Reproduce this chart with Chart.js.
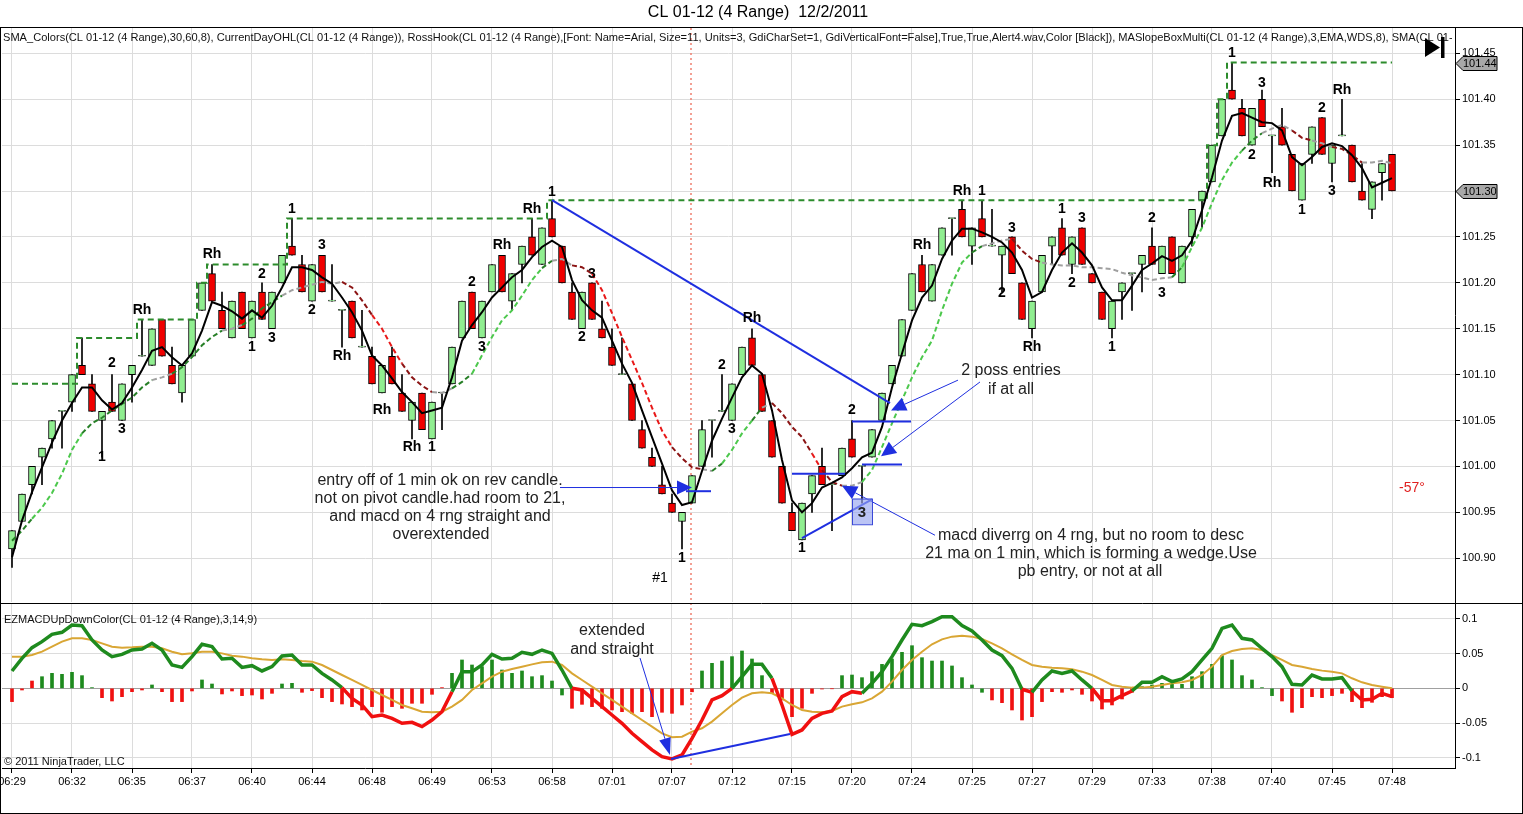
<!DOCTYPE html>
<html><head><meta charset="utf-8">
<script src="https://cdn.jsdelivr.net/npm/chart.js@4.4.0/dist/chart.umd.min.js"></script>
<style>
html,body{margin:0;padding:0;background:#fff;}
#wrap{position:relative;width:1523px;height:814px;overflow:hidden;background:#fff;}
#cA{position:absolute;left:0;top:0;}
#cB{position:absolute;left:0;top:603px;}
#frame{position:absolute;left:0;top:27px;width:1523px;height:787px;border:1px solid #000;box-sizing:border-box;pointer-events:none;}
</style></head><body>
<div id="wrap"><canvas id="cA" width="1523" height="603"></canvas><canvas id="cB" width="1523" height="211"></canvas><div id="frame"></div></div>
<script>
// ---------------- DATA ----------------
const timeLabels = ['06:29','06:32','06:35','06:37','06:40','06:44','06:48','06:49','06:53','06:58','07:01','07:07','07:12','07:15','07:20','07:24','07:25','07:27','07:29','07:33','07:38','07:40','07:45','07:48'];
const priceTicks = [100.90,100.95,101.00,101.05,101.10,101.15,101.20,101.25,101.30,101.35,101.40,101.45];
const macdTicks = [-0.1,-0.05,0,0.05,0.1];

const opens = [
100.91,100.94,100.98,101.01,101.03,101.06,101.07,101.11,101.09,101.05,
101.07,101.05,101.10,101.12,101.11,101.16,101.11,101.08,101.12,101.17,
101.21,101.17,101.14,101.19,101.14,101.19,101.15,101.20,101.24,101.22,
101.18,101.23,101.18,101.17,101.18,101.13,101.12,101.08,101.12,101.08,
101.05,101.08,101.03,101.08,101.09,101.14,101.19,101.14,101.19,101.23,
101.18,101.22,101.25,101.22,101.27,101.24,101.19,101.15,101.20,101.15,
101.13,101.10,101.09,101.04,101.01,100.98,100.96,100.94,100.96,101.00,
101.05,101.06,101.05,101.10,101.14,101.10,101.05,101.00,100.95,100.92,
100.97,101.00,100.98,100.99,101.03,101.00,101.01,101.05,101.09,101.12,
101.17,101.22,101.18,101.23,101.27,101.28,101.24,101.27,101.24,101.23,
101.25,101.20,101.15,101.19,101.24,101.26,101.22,101.26,101.21,101.19,
101.15,101.19,101.21,101.22,101.24,101.21,101.25,101.20,101.25,101.29,
101.31,101.36,101.41,101.39,101.35,101.40,101.36,101.37,101.34,101.29,
101.34,101.38,101.33,101.36,101.35,101.30,101.28,101.32,101.34];
const highs = [
100.93,100.97,101.00,101.02,101.05,101.06,101.10,101.14,101.10,101.06,
101.10,101.09,101.11,101.16,101.15,101.16,101.13,101.11,101.16,101.20,
101.22,101.19,101.18,101.19,101.18,101.20,101.19,101.23,101.27,101.23,
101.22,101.23,101.22,101.17,101.18,101.17,101.13,101.11,101.13,101.10,
101.07,101.08,101.07,101.08,101.13,101.18,101.19,101.18,101.22,101.23,
101.21,101.24,101.27,101.26,101.29,101.24,101.20,101.19,101.20,101.18,
101.15,101.14,101.09,101.05,101.02,101.00,100.97,100.95,100.99,101.05,
101.05,101.10,101.09,101.13,101.15,101.10,101.05,101.00,100.96,100.96,
100.99,101.02,100.98,101.02,101.05,101.00,101.04,101.08,101.11,101.16,
101.21,101.23,101.22,101.26,101.27,101.29,101.26,101.29,101.28,101.24,
101.25,101.20,101.18,101.23,101.25,101.27,101.25,101.26,101.21,101.19,
101.18,101.20,101.21,101.23,101.26,101.24,101.25,101.24,101.28,101.30,
101.35,101.40,101.44,101.40,101.39,101.41,101.36,101.39,101.34,101.33,
101.37,101.38,101.35,101.40,101.35,101.33,101.31,101.33,101.34];
const lows = [
100.89,100.94,100.97,100.98,101.02,101.02,101.06,101.10,101.06,101.01,
101.06,101.05,101.07,101.12,101.11,101.12,101.09,101.07,101.12,101.17,
101.18,101.15,101.14,101.15,101.14,101.16,101.15,101.20,101.23,101.19,
101.18,101.19,101.18,101.13,101.14,101.13,101.09,101.08,101.09,101.06,
101.03,101.04,101.03,101.04,101.09,101.14,101.15,101.14,101.19,101.19,
101.17,101.20,101.23,101.22,101.25,101.20,101.16,101.15,101.16,101.14,
101.11,101.10,101.05,101.02,101.00,100.97,100.95,100.91,100.96,101.00,
101.01,101.06,101.05,101.10,101.11,101.06,101.01,100.96,100.93,100.92,
100.95,100.98,100.93,100.99,101.01,100.96,101.01,101.05,101.09,101.12,
101.17,101.19,101.18,101.23,101.23,101.25,101.22,101.25,101.24,101.19,
101.21,101.16,101.14,101.19,101.22,101.23,101.21,101.22,101.20,101.16,
101.14,101.16,101.17,101.19,101.22,101.21,101.21,101.20,101.24,101.26,
101.31,101.36,101.40,101.36,101.35,101.37,101.32,101.35,101.30,101.29,
101.33,101.34,101.31,101.36,101.31,101.29,101.27,101.29,101.30];
const closes = [
100.93,100.97,101.00,101.02,101.05,101.06,101.10,101.10,101.06,101.06,
101.06,101.09,101.11,101.12,101.15,101.12,101.09,101.11,101.16,101.20,
101.18,101.15,101.18,101.15,101.18,101.16,101.19,101.23,101.23,101.19,
101.22,101.19,101.18,101.17,101.14,101.13,101.09,101.11,101.09,101.06,
101.07,101.04,101.07,101.08,101.13,101.18,101.15,101.18,101.22,101.19,
101.21,101.24,101.23,101.26,101.25,101.20,101.16,101.19,101.16,101.14,
101.11,101.10,101.05,101.02,101.00,100.97,100.95,100.95,100.99,101.04,
101.05,101.06,101.09,101.13,101.11,101.06,101.01,100.96,100.93,100.96,
100.99,100.98,100.98,101.02,101.01,101.00,101.04,101.08,101.11,101.16,
101.21,101.19,101.22,101.26,101.27,101.25,101.26,101.25,101.24,101.24,
101.21,101.16,101.18,101.23,101.25,101.23,101.25,101.22,101.20,101.16,
101.18,101.20,101.21,101.23,101.22,101.24,101.21,101.24,101.28,101.30,
101.35,101.40,101.40,101.36,101.39,101.37,101.36,101.35,101.30,101.33,
101.37,101.34,101.35,101.36,101.31,101.29,101.31,101.33,101.30];

const smaFast = [
100.901,100.941,100.972,100.999,101.026,101.050,101.069,101.086,101.086,101.072,
101.062,101.069,101.086,101.105,101.126,101.130,101.119,101.110,101.123,101.148,
101.179,101.175,101.169,101.161,101.170,101.162,101.175,101.195,101.217,101.217,
101.214,101.206,101.199,101.184,101.168,101.148,101.121,101.110,101.096,101.081,
101.070,101.058,101.061,101.064,101.097,101.137,101.154,101.168,101.184,101.195,
101.206,101.214,101.228,101.239,101.246,101.239,101.203,101.181,101.170,101.162,
101.137,101.112,101.091,101.061,101.032,101.003,100.974,100.958,100.961,100.995,
101.028,101.052,101.075,101.097,101.110,101.101,101.061,101.007,100.963,100.950,
100.960,100.977,100.982,100.988,100.998,101.010,101.015,101.043,101.086,101.123,
101.159,101.184,101.197,101.226,101.246,101.259,101.259,101.255,101.250,101.244,
101.233,101.214,101.184,101.190,101.214,101.233,101.243,101.233,101.219,101.195,
101.181,101.181,101.197,101.214,101.221,101.229,101.224,101.230,101.246,101.279,
101.315,101.355,101.382,101.385,101.380,101.375,101.374,101.366,101.337,101.328,
101.337,101.348,101.352,101.349,101.339,101.325,101.304,101.309,101.314];
const smaSlow = [
100.919,100.930,100.943,100.955,100.971,100.992,101.018,101.036,101.047,101.053,
101.061,101.068,101.075,101.086,101.094,101.097,101.101,101.108,101.119,101.132,
101.141,101.148,101.150,101.154,101.161,101.172,101.179,101.186,101.192,101.195,
101.198,101.201,101.199,101.201,101.195,101.181,101.165,101.150,101.130,101.112,
101.097,101.088,101.081,101.080,101.085,101.092,101.101,101.121,101.141,101.159,
101.170,101.186,101.203,101.216,101.224,101.226,101.219,101.217,101.210,101.192,
101.167,101.141,101.116,101.091,101.064,101.039,101.021,101.009,100.999,100.997,
100.995,101.003,101.018,101.036,101.050,101.064,101.069,101.058,101.043,101.032,
101.014,100.996,100.983,100.979,100.979,100.983,100.996,101.021,101.047,101.072,
101.097,101.119,101.137,101.170,101.199,101.222,101.233,101.240,101.243,101.246,
101.248,101.235,101.226,101.222,101.220,101.219,101.219,101.217,101.217,101.216,
101.215,101.211,101.208,101.206,101.203,101.205,101.206,101.217,101.239,101.260,
101.287,101.312,101.331,101.344,101.355,101.363,101.368,101.372,101.366,101.358,
101.355,101.352,101.348,101.346,101.339,101.331,101.331,101.333,101.330];
const dayHigh = [
101.09,101.09,101.09,101.09,101.09,101.09,101.09,101.14,101.14,101.14,
101.14,101.14,101.14,101.16,101.16,101.16,101.16,101.16,101.16,101.20,
101.22,101.22,101.22,101.22,101.22,101.22,101.22,101.22,101.27,101.27,
101.27,101.27,101.27,101.27,101.27,101.27,101.27,101.27,101.27,101.27,
101.27,101.27,101.27,101.27,101.27,101.27,101.27,101.27,101.27,101.27,
101.27,101.27,101.27,101.27,101.29,101.29,101.29,101.29,101.29,101.29,
101.29,101.29,101.29,101.29,101.29,101.29,101.29,101.29,101.29,101.29,
101.29,101.29,101.29,101.29,101.29,101.29,101.29,101.29,101.29,101.29,
101.29,101.29,101.29,101.29,101.29,101.29,101.29,101.29,101.29,101.29,
101.29,101.29,101.29,101.29,101.29,101.29,101.29,101.29,101.29,101.29,
101.29,101.29,101.29,101.29,101.29,101.29,101.29,101.29,101.29,101.29,
101.29,101.29,101.29,101.29,101.29,101.29,101.29,101.29,101.29,101.29,
101.35,101.40,101.44,101.44,101.44,101.44,101.44,101.44,101.44,101.44,
101.44,101.44,101.44,101.44,101.44,101.44,101.44,101.44,101.44];

const macdLine = [
0.0249,0.0431,0.0584,0.0670,0.0775,0.0804,0.0909,0.0900,0.0694,0.0550,
0.0455,0.0488,0.0550,0.0565,0.0646,0.0550,0.0335,0.0301,0.0455,0.0632,
0.0598,0.0421,0.0431,0.0301,0.0325,0.0249,0.0311,0.0464,0.0478,0.0335,
0.0335,0.0215,0.0120,0.0010,-0.0144,-0.0239,-0.0407,-0.0383,-0.0431,-0.0502,
-0.0488,-0.0550,-0.0455,-0.0335,-0.0048,0.0239,0.0239,0.0335,0.0488,0.0421,
0.0431,0.0517,0.0488,0.0550,0.0502,0.0263,0.0000,-0.0024,-0.0144,-0.0263,
-0.0383,-0.0502,-0.0646,-0.0766,-0.0885,-0.0981,-0.1014,-0.0957,-0.0718,-0.0455,
-0.0167,-0.0105,0.0000,0.0167,0.0344,0.0344,0.0144,-0.0239,-0.0660,-0.0598,
-0.0431,-0.0359,-0.0325,-0.0120,-0.0048,-0.0072,0.0072,0.0239,0.0455,0.0694,
0.0919,0.0900,0.0957,0.1029,0.1029,0.0900,0.0823,0.0694,0.0550,0.0469,
0.0287,-0.0014,-0.0057,0.0120,0.0249,0.0215,0.0249,0.0120,0.0000,-0.0177,
-0.0177,-0.0105,-0.0038,0.0086,0.0086,0.0167,0.0096,0.0134,0.0239,0.0407,
0.0574,0.0861,0.0909,0.0718,0.0694,0.0574,0.0455,0.0311,0.0057,0.0048,
0.0191,0.0134,0.0134,0.0153,-0.0038,-0.0167,-0.0158,-0.0072,-0.0120];
const signalLine = [
0.0455,0.0455,0.0478,0.0526,0.0598,0.0670,0.0718,0.0718,0.0694,0.0646,
0.0598,0.0584,0.0589,0.0598,0.0598,0.0574,0.0526,0.0488,0.0502,0.0526,
0.0526,0.0502,0.0469,0.0455,0.0431,0.0416,0.0407,0.0416,0.0407,0.0392,
0.0383,0.0335,0.0263,0.0191,0.0120,0.0048,-0.0024,-0.0096,-0.0167,-0.0239,
-0.0287,-0.0335,-0.0344,-0.0335,-0.0263,-0.0167,-0.0024,0.0072,0.0167,0.0239,
0.0278,0.0311,0.0344,0.0373,0.0383,0.0335,0.0215,0.0120,0.0024,-0.0072,
-0.0167,-0.0263,-0.0359,-0.0455,-0.0550,-0.0646,-0.0703,-0.0694,-0.0622,-0.0574,
-0.0478,-0.0359,-0.0239,-0.0134,-0.0072,-0.0057,-0.0072,-0.0144,-0.0239,-0.0311,
-0.0335,-0.0344,-0.0325,-0.0263,-0.0230,-0.0201,-0.0144,-0.0048,0.0096,0.0263,
0.0407,0.0526,0.0632,0.0703,0.0742,0.0756,0.0742,0.0708,0.0646,0.0574,
0.0488,0.0407,0.0335,0.0311,0.0297,0.0287,0.0273,0.0239,0.0191,0.0120,
0.0048,0.0024,0.0010,0.0010,0.0024,0.0048,0.0072,0.0086,0.0120,0.0191,
0.0311,0.0478,0.0536,0.0565,0.0574,0.0550,0.0478,0.0407,0.0335,0.0311,
0.0278,0.0254,0.0239,0.0215,0.0144,0.0086,0.0048,0.0024,0.0000];
const histogram = [
-0.0191,-0.0024,0.0105,0.0167,0.0215,0.0201,0.0230,0.0182,0.0010,-0.0134,
-0.0182,-0.0120,-0.0048,-0.0024,0.0048,-0.0048,-0.0191,-0.0191,-0.0038,0.0120,
0.0062,-0.0081,-0.0038,-0.0105,-0.0096,-0.0153,-0.0072,0.0062,0.0072,-0.0057,
-0.0033,-0.0134,-0.0191,-0.0225,-0.0263,-0.0311,-0.0263,-0.0344,-0.0263,-0.0287,
-0.0215,-0.0215,-0.0086,0.0010,0.0215,0.0407,0.0335,0.0311,0.0407,0.0263,
0.0215,0.0249,0.0167,0.0182,0.0105,-0.0096,-0.0287,-0.0230,-0.0263,-0.0287,
-0.0311,-0.0335,-0.0359,-0.0335,-0.0407,-0.0344,-0.0359,-0.0239,-0.0050,0.0249,
0.0359,0.0392,0.0455,0.0536,0.0421,0.0182,-0.0072,-0.0167,-0.0407,-0.0287,
-0.0072,-0.0010,-0.0005,0.0182,0.0191,0.0153,0.0239,0.0344,0.0421,0.0517,
0.0612,0.0440,0.0392,0.0392,0.0321,0.0153,0.0048,-0.0057,-0.0167,-0.0206,
-0.0311,-0.0455,-0.0407,-0.0191,-0.0048,-0.0057,-0.0024,-0.0086,-0.0182,-0.0297,
-0.0239,-0.0153,-0.0057,0.0024,0.0048,0.0072,0.0057,0.0057,0.0167,0.0239,
0.0344,0.0469,0.0407,0.0182,0.0120,0.0010,-0.0105,-0.0182,-0.0344,-0.0278,
-0.0120,-0.0134,-0.0105,-0.0072,-0.0191,-0.0278,-0.0201,-0.0120,-0.0134];
const histOffColor = [2,43,55,97,126];

// swing labels: [bar, price, text]
const swingLabels = [
[10,101.112,'2'],[9,101.010,'1'],[11,101.041,'3'],[13,101.170,'Rh'],[20,101.231,'Rh'],
[25,101.210,'2'],[24,101.130,'1'],[26,101.140,'3'],[28,101.280,'1'],[31,101.241,'3'],
[30,101.170,'2'],[33,101.120,'Rh'],[37,101.061,'Rh'],[40,101.021,'Rh'],[42,101.021,'1'],
[46,101.201,'2'],[47,101.130,'3'],[49,101.241,'Rh'],[52,101.280,'Rh'],[54,101.299,'1'],
[57,101.141,'2'],[58,101.210,'3'],[67,100.900,'1'],[71,101.110,'2'],[72,101.041,'3'],
[74,101.161,'Rh'],[79,100.911,'1'],[84,101.061,'2'],[91,101.241,'Rh'],[95,101.300,'Rh'],
[97,101.300,'1'],[100,101.260,'3'],[99,101.189,'2'],[102,101.130,'Rh'],[105,101.280,'1'],
[107,101.270,'3'],[106,101.200,'2'],[110,101.130,'1'],[114,101.270,'2'],[115,101.189,'3'],
[122,101.450,'1'],[125,101.418,'3'],[124,101.339,'2'],[126,101.309,'Rh'],[129,101.279,'1'],
[131,101.390,'2'],[132,101.300,'3'],[133,101.410,'Rh']];

// drawn annotations in chart coordinates [bar1, value1, bar2, value2]
const blueSegments = [[54,101.29,87.8,101.069],[84,101.049,89.9,101.049],[85,101.002,89,101.002],[78,100.992,83.3,100.992],[67.4,100.973,69.9,100.973],[79,100.922,86,100.964]];
const blueArrows = [[94.6,101.094,87.9,101.061],[96.8,101.092,86.9,101.011],[92.3,100.925,83,100.979],[54.8,100.977,68,100.977]];
const noteBox = [84,100.965,86,100.937];
const macdSegments = [[65.9,-0.1016,77.8,-0.0657]];
const macdArrows = [[62.8,0.0435,65.8,-0.0958]];
const sessionBreak = 67.9;

// ---------------- STYLE ----------------
const FONT = '"Liberation Sans", Arial, Helvetica, sans-serif';
Chart.defaults.font.family = FONT;
Chart.defaults.color = '#000';
const GRID = '#DCDCDC';
const C_UP = '#90EE90', C_DN = '#F00000';
const BLUE = '#1F2FE0';
const N = closes.length;
const xy = arr => arr.map((v,i)=>({x:i,y:v}));
const INDICATORS = 'SMA_Colors(CL 01-12 (4 Range),30,60,8), CurrentDayOHL(CL 01-12 (4 Range)), RossHook(CL 01-12 (4 Range),[Font: Name=Arial, Size=11, Units=3, GdiCharSet=1, GdiVerticalFont=False],True,True,Alert4.wav,Color [Black]), MASlopeBoxMulti(CL 01-12 (4 Range),3,EMA,WDS,8), SMA(CL 01-12 (4 Range),21)';

function slopeColor(i){
  const a = Math.max(i-1,0), b = Math.min(i+2,N-1);
  const s = (smaSlow[b]-smaSlow[a])/(b-a);
  if (s > 0.0125) return '#4CC84C';
  if (s > 0.006) return '#267F26';
  if (s < -0.016) return '#E81818';
  if (s < -0.004) return '#8B1414';
  return '#A0A0A0';
}
function arrow(ctx, x1,y1,x2,y2,len,half){
  const a = Math.atan2(y2-y1,x2-x1);
  const bx = x2-len*Math.cos(a), by = y2-len*Math.sin(a);
  ctx.beginPath(); ctx.moveTo(x1,y1); ctx.lineTo(bx,by); ctx.stroke();
  ctx.beginPath(); ctx.moveTo(x2,y2);
  ctx.lineTo(bx+half*Math.sin(a), by-half*Math.cos(a));
  ctx.lineTo(bx-half*Math.sin(a), by+half*Math.cos(a));
  ctx.closePath(); ctx.fill();
}
function vDotted(chart){
  const ctx=chart.ctx, ca=chart.chartArea, x=chart.scales.x.getPixelForValue(sessionBreak);
  ctx.save(); ctx.strokeStyle='#F08070'; ctx.lineWidth=1.5; ctx.setLineDash([2,3]);
  ctx.beginPath(); ctx.moveTo(x,ca.top); ctx.lineTo(x,ca.bottom); ctx.stroke(); ctx.restore();
}
function white(chart){ const c=chart.ctx; c.save(); c.fillStyle='#fff'; c.fillRect(0,0,chart.width,chart.height); c.restore(); }

const decorA = {
  id:'decorA',
  beforeDraw: white,
  beforeDatasetsDraw: vDotted,
  afterDraw(chart){
    const ctx=chart.ctx, xs=chart.scales.x, ys=chart.scales.y, ca=chart.chartArea;
    const X=v=>xs.getPixelForValue(v), Y=v=>ys.getPixelForValue(v);
    ctx.save();
    ctx.fillStyle='#000'; ctx.textBaseline='middle';
    ctx.font='16px '+FONT; ctx.textAlign='center';
    ctx.fillText('CL 01-12 (4 Range)  12/2/2011', 758, 13);
    // indicator legend line
    ctx.save(); ctx.beginPath(); ctx.rect(ca.left, ca.top, ca.right-ca.left-3, 40); ctx.clip();
    ctx.font='11px '+FONT;
    const pre = INDICATORS.slice(0, INDICATORS.lastIndexOf('SMA(')+4);
    const fs = 11*(1418/ctx.measureText(pre).width);
    ctx.font=fs.toFixed(2)+'px '+FONT; ctx.textAlign='left'; ctx.fillStyle='#111';
    ctx.fillText(INDICATORS, 3, 38);
    ctx.restore();
    // blue segments
    ctx.strokeStyle=BLUE; ctx.fillStyle=BLUE; ctx.lineWidth=2;
    blueSegments.forEach(s=>{ctx.beginPath(); ctx.moveTo(X(s[0]),Y(s[1])); ctx.lineTo(X(s[2]),Y(s[3])); ctx.stroke();});
    ctx.lineWidth=1;
    blueArrows.forEach(s=>arrow(ctx,X(s[0]),Y(s[1]),X(s[2]),Y(s[3]),15,7));
    // box "3"
    const bx1=X(noteBox[0]), by1=Y(noteBox[1]), bx2=X(noteBox[2]), by2=Y(noteBox[3]);
    ctx.fillStyle='rgba(150,165,240,0.65)'; ctx.fillRect(bx1,by1,bx2-bx1,by2-by1);
    ctx.strokeStyle='#3A48D8'; ctx.lineWidth=1; ctx.strokeRect(bx1+0.5,by1+0.5,bx2-bx1,by2-by1);
    ctx.fillStyle='#222'; ctx.font='bold 15px '+FONT; ctx.textAlign='center';
    ctx.fillText('3',(bx1+bx2)/2,(by1+by2)/2+1);
    // swing labels
    ctx.fillStyle='#000'; ctx.font='bold 14px '+FONT;
    swingLabels.forEach(l=>ctx.fillText(l[2], X(l[0]), Y(l[1])));
    ctx.font='14px '+FONT; ctx.fillText('#1', 660, 578);
    ctx.fillStyle='#E02020'; ctx.fillText('-57°', 1412, 488);
    // notes
    ctx.fillStyle='#222'; ctx.font='16px '+FONT;
    [[440,481,'entry off of 1 min ok on rev candle.'],[440,499,'not on pivot candle.had room to 21,'],[440,517,'and macd on 4 rng straight and'],[441,535,'overextended'],
     [1011,371,'2 poss entries'],[1011,390,'if at all'],
     [1091,536,'macd diverrg on 4 rng, but no room to desc'],[1091,554,'21 ma on 1 min, which is forming a wedge.Use'],[1090,572,'pb entry, or not at all']]
     .forEach(n=>ctx.fillText(n[2],n[0],n[1]));
    // price tags
    const tag=(v)=>{const y=Math.round(Y(v))+0.5, x0=ca.right+1;
      ctx.beginPath(); ctx.moveTo(x0,y); ctx.lineTo(x0+7,y-7); ctx.lineTo(1497,y-7); ctx.lineTo(1497,y+7); ctx.lineTo(x0+7,y+7); ctx.closePath();
      ctx.fillStyle='#A8A8A8'; ctx.fill(); ctx.strokeStyle='#000'; ctx.lineWidth=1; ctx.stroke();
      ctx.fillStyle='#000'; ctx.font='11px '+FONT; ctx.textAlign='left'; ctx.fillText(v.toFixed(2), x0+7, y+0.5);};
    tag(dayHigh[N-1]); tag(closes[N-1]);
    // end-of-chart icon
    ctx.fillStyle='#000'; ctx.beginPath(); ctx.moveTo(1425,38); ctx.lineTo(1440,47.5); ctx.lineTo(1425,57); ctx.closePath(); ctx.fill();
    ctx.fillRect(1441,37,3.5,21);
    ctx.restore();
  }
};

const decorB = {
  id:'decorB',
  beforeDraw: white,
  beforeDatasetsDraw: vDotted,
  afterDraw(chart){
    const ctx=chart.ctx, xs=chart.scales.x, ys=chart.scales.y;
    const X=v=>xs.getPixelForValue(v), Y=v=>ys.getPixelForValue(v);
    ctx.save();
    ctx.strokeStyle='#000'; ctx.lineWidth=1; ctx.beginPath(); ctx.moveTo(0,0.5); ctx.lineTo(chart.width,0.5); ctx.stroke();
    ctx.fillStyle='#111'; ctx.textBaseline='middle'; ctx.textAlign='left'; ctx.font='11px '+FONT;
    ctx.fillText('EZMACDUpDownColor(CL 01-12 (4 Range),3,14,9)', 4, 17);
    ctx.fillText('\u00A9 2011 NinjaTrader, LLC', 4, 159);
    ctx.fillStyle='#222'; ctx.font='16px '+FONT; ctx.textAlign='center';
    ctx.fillText('extended', 612, 28); ctx.fillText('and straight', 612, 47);
    ctx.strokeStyle=BLUE; ctx.fillStyle=BLUE; ctx.lineWidth=2;
    macdSegments.forEach(s=>{ctx.beginPath(); ctx.moveTo(X(s[0]),Y(s[1])); ctx.lineTo(X(s[2]),Y(s[3])); ctx.stroke();});
    ctx.lineWidth=1;
    macdArrows.forEach(s=>arrow(ctx,X(s[0]),Y(s[1]),X(s[2]),Y(s[3]),17,6));
    ctx.restore();
  }
};

const xTicks = s => { s.ticks = timeLabels.map((t,k)=>({value:k*6})); };

new Chart(document.getElementById('cA'), {
  type:'bar',
  data:{datasets:[
    {type:'bar', data: lows.map((l,i)=>({x:i,y:[l,highs[i]]})), backgroundColor:'#000', barThickness:1, grouped:false, order:5},
    {type:'bar', data: opens.map((o,i)=>({x:i,y:[o,closes[i]]})),
      backgroundColor: c => closes[c.dataIndex] >= opens[c.dataIndex] ? C_UP : C_DN,
      borderColor:'#000', borderWidth:1, borderSkipped:false, barThickness:7, minBarLength:1, grouped:false, order:4},
    {type:'line', data: xy(dayHigh), stepped:'middle', borderColor:'#2C8C2C', borderWidth:2, borderDash:[6,4], pointRadius:0, order:3},
    {type:'line', data: xy(smaSlow), borderColor:'#A0A0A0', borderWidth:2, borderDash:[5,3], pointRadius:0, order:2,
      segment:{borderColor: c => slopeColor(c.p0DataIndex)}},
    {type:'line', data: xy(smaFast), borderColor:'#000', borderWidth:2, pointRadius:0, order:1}
  ]},
  options:{
    responsive:false, animation:false, events:[],
    layout:{padding:{left:2,right:0,top:28,bottom:1}},
    plugins:{legend:{display:false}, tooltip:{enabled:false}},
    scales:{
      x:{type:'linear', min:-1, max:144.3, offset:false,
         grid:{color:GRID, offset:false, drawTicks:false}, border:{display:false}, ticks:{display:false},
         afterBuildTicks:xTicks, afterFit:s=>{s.height=0; s.paddingLeft=0; s.paddingRight=0;}},
      y:{type:'linear', position:'right', min:100.8523, max:101.4776,
         grid:{color:GRID, tickColor:'#000', tickLength:5}, border:{display:true, color:'#000'},
         ticks:{color:'#000', font:{size:11}, padding:2, callback:v=>Number(v).toFixed(2)},
         afterBuildTicks:s=>{s.ticks=priceTicks.map(v=>({value:v}));},
         afterFit:s=>{s.width=68; s.paddingTop=0; s.paddingBottom=0;}}
    }
  },
  plugins:[decorA]
});

new Chart(document.getElementById('cB'), {
  type:'bar',
  data:{datasets:[
    {type:'bar', data: xy(histogram), barThickness:3, grouped:false, order:3,
      backgroundColor: c => { const pos = histogram[c.dataIndex] >= 0; const flip = histOffColor.includes(c.dataIndex); return (pos !== flip) ? '#1E8A1E' : '#F01010'; }},
    {type:'line', data: xy(signalLine), borderColor:'#D9A634', borderWidth:2, pointRadius:0, order:2},
    {type:'line', data: xy(macdLine), borderWidth:3.5, pointRadius:0, order:1, borderColor:'#1E8A1E',
      segment:{borderColor: c => ((c.p0.parsed.y + c.p1.parsed.y)/2 >= 0 ? '#1E8A1E' : '#F01010')}}
  ]},
  options:{
    responsive:false, animation:false, events:[],
    layout:{padding:{left:2,right:0,top:0,bottom:0}},
    plugins:{legend:{display:false}, tooltip:{enabled:false}},
    scales:{
      x:{type:'linear', min:-1, max:144.3, offset:false,
         grid:{color:GRID, offset:false, tickColor:'#000', tickLength:5}, border:{display:true,color:'#000'},
         ticks:{color:'#000', font:{size:11}, padding:2, maxRotation:0, autoSkip:false, callback:(v,i)=>timeLabels[i]},
         afterBuildTicks:xTicks, afterFit:s=>{s.height=46; s.paddingLeft=0; s.paddingRight=0;}},
      y:{type:'linear', position:'right', min:-0.1144, max:0.1225,
         grid:{color:c=> (c.tick && c.tick.value===0) ? '#A0A0A0' : GRID, tickColor:'#000', tickLength:5},
         border:{display:true,color:'#000'},
         ticks:{color:'#000', font:{size:11}, padding:2, callback:v=>String(v)},
         afterBuildTicks:s=>{s.ticks=macdTicks.map(v=>({value:v}));},
         afterFit:s=>{s.width=68; s.paddingTop=0; s.paddingBottom=0;}}
    }
  },
  plugins:[decorB]
});
</script>
</body></html>
